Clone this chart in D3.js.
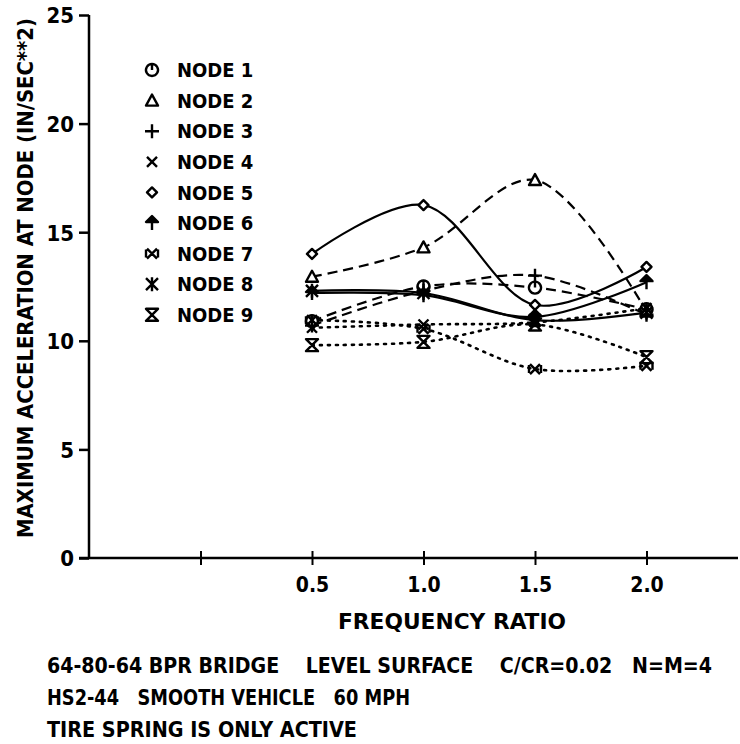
<!DOCTYPE html>
<html>
<head>
<meta charset="utf-8">
<script src="https://cdn.jsdelivr.net/npm/d3@7"></script>
<style>
  html, body { margin: 0; padding: 0; background: #fff; }
  svg text { font-family: "DejaVu Sans Condensed", "DejaVu Sans", "Liberation Sans", sans-serif; font-stretch: condensed; font-weight: bold; fill: #000; }
</style>
</head>
<body>
<svg id="chart" width="740" height="744"></svg>
<script>
// ---- data ----
const freqRatio = [0.5, 1.0, 1.5, 2.0];
const xTickValues = [0.0, 0.5, 1.0, 1.5, 2.0];
const xTickLabels = ["", "0.5", "1.0", "1.5", "2.0"];
const yTickValues = [0, 5, 10, 15, 20, 25];
const nodeNames = ["NODE 1", "NODE 2", "NODE 3", "NODE 4", "NODE 5", "NODE 6", "NODE 7", "NODE 8", "NODE 9"];
const node1 = [10.9, 12.5, 12.45, 11.45];
const node2 = [12.95, 14.3, 17.4, 11.35];
const node3 = [10.7, 12.3, 13.0, 11.2];
const node4 = [10.6, 10.75, 10.85, 11.5];
const node5 = [14.0, 16.25, 11.65, 13.4];
const node6 = [12.2, 12.1, 11.1, 12.7];
const node7 = [10.95, 10.55, 8.7, 8.85];
const node8 = [12.3, 12.2, 10.95, 11.3];
const node9 = [9.8, 9.95, 10.75, 9.25];
const seriesValues = [node1, node2, node3, node4, node5, node6, node7, node8, node9];
const lineStyles = ["dashed", "dashed", "dashed", "dotted", "solid", "solid", "dotted", "solid", "dotted"];
const footnotes = [
  "64-80-64 BPR BRIDGE    LEVEL SURFACE    C/CR=0.02   N=M=4",
  "HS2-44   SMOOTH VEHICLE   60 MPH",
  "TIRE SPRING IS ONLY ACTIVE"
];

// ---- helpers ----
function fitText(sel, target) {
  const node = sel.node();
  const w = node.getComputedTextLength();
  if (w > 0 && Math.abs(w - target) > 1) {
    sel.attr("textLength", target).attr("lengthAdjust", "spacingAndGlyphs");
  }
  return sel;
}

// ---- layout ----
const svg = d3.select("#chart");
const x = d3.scaleLinear().domain([-0.5, 2.5]).range([89, 758]);
const y = d3.scaleLinear().domain([0, 25]).range([558, 15]);

// axes
const yAxis = d3.axisLeft(y).tickValues(yTickValues).tickSize(10).tickPadding(5).tickFormat(d3.format("d"));
const gy = svg.append("g").attr("transform", "translate(89,0)").call(yAxis);
gy.select(".domain").remove();
gy.selectAll(".tick line").attr("stroke", "#000").attr("stroke-width", 2.5);
gy.selectAll(".tick text").style("font-size", "22px").attr("dy", "0.36em");
svg.append("line").attr("x1", 89).attr("x2", 89).attr("y1", 15).attr("y2", 559)
  .attr("stroke", "#000").attr("stroke-width", 2.5);

const xAxis = d3.axisBottom(x).tickValues(xTickValues).tickSize(7).tickPadding(12)
  .tickFormat((d, i) => xTickLabels[i]);
const gx = svg.append("g").attr("transform", "translate(0,558)").call(xAxis);
gx.select(".domain").remove();
gx.selectAll(".tick line").attr("y1", -7).attr("stroke", "#000").attr("stroke-width", 2);
gx.selectAll(".tick text").style("font-size", "21px");
svg.append("line").attr("x1", 79).attr("x2", 738).attr("y1", 558).attr("y2", 558)
  .attr("stroke", "#000").attr("stroke-width", 2.5);

// axis titles
fitText(svg.append("text").attr("x", 452).attr("y", 629).attr("text-anchor", "middle")
  .style("font-size", "21px").text("FREQUENCY RATIO"), 228);
fitText(svg.append("text").attr("transform", "translate(33,278) rotate(-90)").attr("text-anchor", "middle")
  .style("font-size", "21px").text("MAXIMUM ACCELERATION AT NODE (IN/SEC**2)"), 520);

// footnotes
const footWidths = [665, 363, 310];
footnotes.forEach((t, i) => {
  const tx = svg.append("text").attr("x", 47).attr("y", 673 + i * 32).style("font-size", "21px")
    .attr("xml:space", "preserve").style("white-space", "pre").text(t);
  fitText(tx, footWidths[i]);
});

// markers
const markerPaths = [
  "M0,-6A6,6 0 1,1 -0.01,-6Z M0,-6V0",                       // circle with tick
  "M0,-6L6,5H-6Z",                                          // triangle
  "M-7,0H7M0,-7V7",                                         // plus
  "M-5,-5L5,5M5,-5L-5,5",                                   // x
  "M0,-5L5,0L0,5L-5,0Z",                                    // diamond
  "M0,-7L-6,-1H6Z M0,-1V7",                                 // arrow
  "M-5,-5L5,5M5,-5L-5,5M-6,-4V4M6,-4V4",                    // x in box
  "M-6,-6L6,6M6,-6L-6,6M0,-7V7",                            // asterisk
  "M-6,-6H6L-6,6H6Z"                                        // hourglass
];
const markerFill = [false, false, false, false, false, true, false, false, false];
function drawMarker(g, i, cx, cy) {
  g.append("path").attr("d", markerPaths[i]).attr("transform", `translate(${cx},${cy})`)
    .attr("fill", markerFill[i] ? "#000" : (i === 0 || i === 1 || i === 4 ? "#fff" : "none"))
    .attr("stroke", "#000").attr("stroke-width", 2.4).attr("stroke-linejoin", "round");
}

const dashFor = { solid: null, dashed: "10,6", dotted: "2,6" };
const line = d3.line().x((d, i) => x(freqRatio[i])).y(d => y(d)).curve(d3.curveCatmullRom.alpha(0.5));

const plot = svg.append("g");
seriesValues.forEach((vals, si) => {
  plot.append("path").datum(vals).attr("d", line).attr("fill", "none").attr("stroke", "#000")
    .attr("stroke-width", lineStyles[si] === "dotted" ? 2.6 : 2.2)
    .attr("stroke-linecap", lineStyles[si] === "dotted" ? "round" : "butt")
    .attr("stroke-dasharray", dashFor[lineStyles[si]]);
});
seriesValues.forEach((vals, si) => {
  vals.forEach((v, i) => drawMarker(plot, si, x(freqRatio[i]), y(v)));
});

// legend
const legend = svg.append("g");
nodeNames.forEach((n, i) => {
  const ly = 70 + i * 30.6;
  drawMarker(legend, i, 152, ly);
  fitText(legend.append("text").attr("x", 177).attr("y", ly).attr("dy", "0.36em")
    .style("font-size", "20px").text(n), 76);
});
</script>
</body>
</html>
